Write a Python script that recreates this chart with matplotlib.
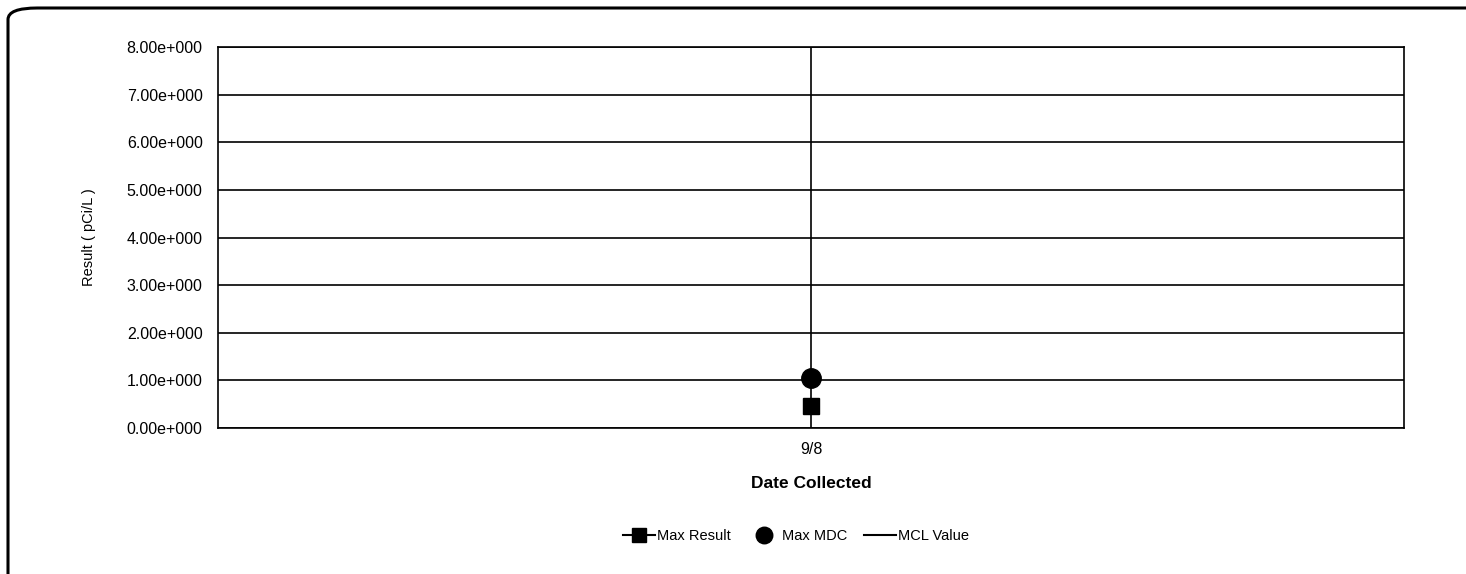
import numpy as np
import matplotlib.pyplot as plt
from matplotlib.patches import FancyBboxPatch

plt.rcParams['font.family'] = ['Liberation Sans', 'DejaVu Sans']

# data
dates = ["9/8"]
max_result = [0.47]
max_mdc = [1.05]
mcl_value = [np.nan]
y_ticks = [0, 1, 2, 3, 4, 5, 6, 7, 8]

W, H = 1466, 574
fig = plt.figure(figsize=(W / 100, H / 100), dpi=100)

# outer rounded frame (bottom/right run off the image)
frame = FancyBboxPatch((8 / W, -0.1), 1.2, 1 - 8 / H + 0.1,
                       boxstyle="round,pad=0,rounding_size=0.02",
                       transform=fig.transFigure, fill=False,
                       edgecolor="black", linewidth=2.2, clip_on=False)
fig.patches.append(frame)

left, right = 218 / W, 1404 / W
bottom, top = 1 - 428 / H, 1 - 47 / H
ax = fig.add_axes([left, bottom, right - left, top - bottom])

x = np.arange(len(dates))
ax.plot(x, max_result, color="black", marker="s", markersize=12,
        linewidth=1.5, label="Max Result", zorder=3)
ax.plot(x, max_mdc, color="black", marker="o", markersize=14,
        linestyle="none", label="Max MDC", zorder=3)
ax.plot(x, mcl_value, color="black", linewidth=1.5, label="MCL Value")

ax.set_xlim(-0.5, len(dates) - 0.5)
ax.set_ylim(0, 8)
ax.set_xticks(x)
ax.set_xticklabels(dates)
ax.set_yticks(y_ticks)
ax.set_yticklabels([f"{v:.2f}e+000" for v in y_ticks])
ax.tick_params(length=0, labelsize=11.5, pad=11)
ax.tick_params(axis="x", pad=10)
ax.grid(True, color="black", linewidth=1.2)
ax.set_axisbelow(True)
for s in ax.spines.values():
    s.set_linewidth(1.2)

ax.set_xlabel("Date Collected", fontsize=12.5, fontweight="bold", labelpad=14)
ax.set_ylabel("Result ( pCi/L )", fontsize=10.5, labelpad=22)

fig.legend(loc="center", bbox_to_anchor=(796 / W, 1 - 536 / H), ncol=3,
           frameon=False, fontsize=10.5, handlelength=2.2, handletextpad=0.1,
           columnspacing=1.2, markerscale=0.85)

fig.savefig("out.png", dpi=100)
